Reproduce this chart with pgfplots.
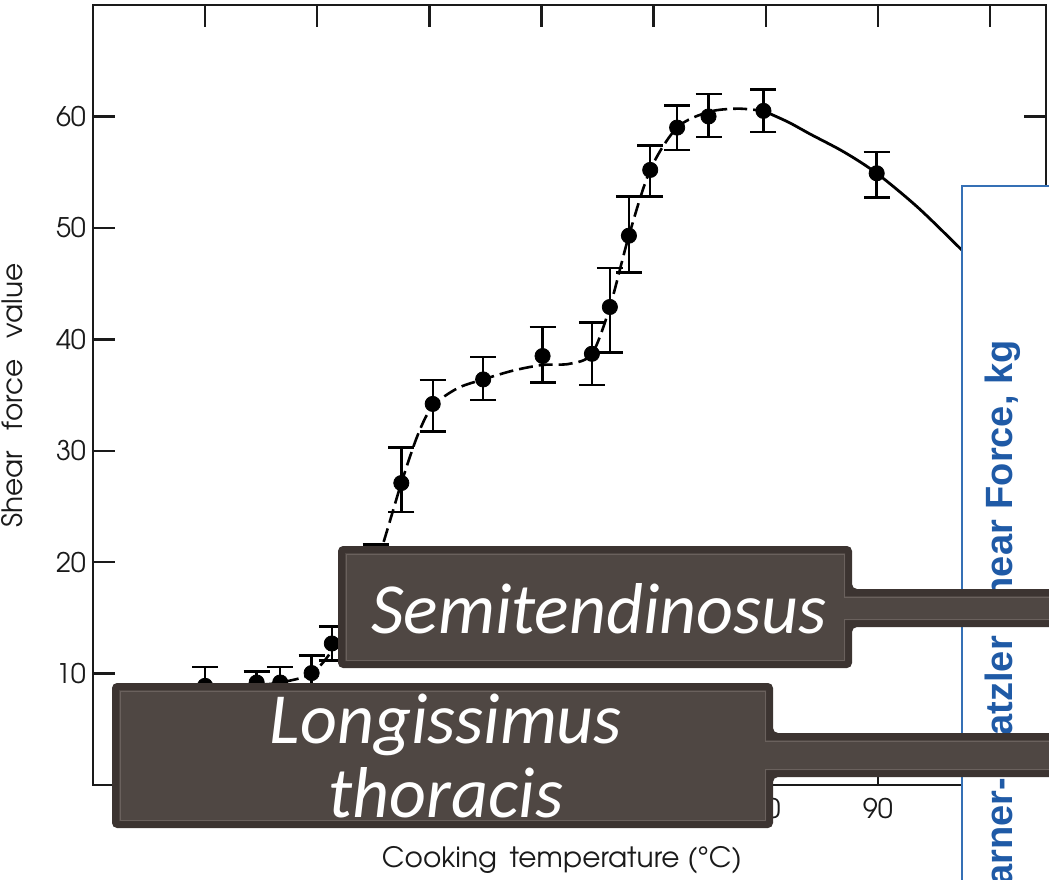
\documentclass[border=0pt]{standalone}
\usepackage{pgfplots}
\usepackage{pgfplotstable}
\pgfplotsset{compat=1.18}
\usepackage{fontspec}
\setmainfont{TeX Gyre Adventor}
\newfontfamily\boxfont{Carlito}
\newfontfamily\bluefont{Liberation Sans}
\definecolor{boxfill}{HTML}{4F4743}
\definecolor{boxdark}{HTML}{3C3431}
\definecolor{boxline}{HTML}{6A615D}
\definecolor{bluetxt}{HTML}{1F5AA6}
\definecolor{blueline}{HTML}{3570B5}
\definecolor{ink}{HTML}{1A1A1A}

% mean shear force with error bars (x, y, plus, minus)
\pgfplotstableread{
x y ep em
30.0 8.9 1.7 1.7
34.6 9.2 1.0 1.0
36.7 9.2 1.4 1.4
39.5 10.05 1.55 1.5
41.3 12.7 1.5 1.5
45.2 19.6 2.0 2.0
47.5 27.1 3.2 2.6
50.3 34.2 2.15 2.5
54.8 36.4 2.0 1.85
60.1 38.5 2.6 2.4
64.5 38.7 2.8 2.8
66.1 42.9 3.5 4.1
67.8 49.3 3.5 3.3
69.7 55.2 2.2 2.4
72.1 59.0 2.0 2.0
74.9 60.0 2.0 1.85
79.8 60.5 1.9 1.9
89.9 54.9 1.9 2.2
}\means

% fitted curve, dashed part
\pgfplotstableread{
x y
30.0 8.9
34.6 9.0
36.7 9.2
39.5 10.0
41.5 12.3
43.5 15.5
45.5 20.5
47.5 27.1
49.0 31.5
50.3 34.0
52.5 35.6
54.8 36.4
57.5 37.2
60.1 37.7
62.5 37.8
64.5 38.7
66.1 42.9
67.8 49.3
69.7 55.2
72.1 59.0
74.9 60.4
77.5 60.7
79.8 60.5
}\dashcurve

% fitted curve, solid part
\pgfplotstableread{
x y
79.8 60.5
82.0 59.5
84.0 58.4
87.0 56.8
89.9 54.9
93.5 51.9
97.0 48.5
100.0 45.5
}\solidcurve

\begin{document}
\begin{tikzpicture}
\useasboundingbox (0pt,0pt) rectangle (524.5pt,-439.5pt);
\clip (0pt,0pt) rectangle (524.5pt,-439.5pt);
\begin{axis}[
  at={(46.5pt,-392.5pt)}, anchor=south west,
  scale only axis, width=476.5pt, height=390pt,
  xmin=20, xmax=105, ymin=0, ymax=70,
  xtick={30,40,...,100}, ytick={10,20,...,60},
  xticklabels={,,,,,80,90,},
  tick align=inside, major tick length=11pt,
  axis line style={line width=1.3pt, ink},
  tick style={line width=1.2pt, ink},
  /pgf/number format/assume math mode=true,
  tick label style={font=\fontsize{13.5}{15}\selectfont, text=ink},
  xticklabel style={yshift=-3pt},
  label style={font=\fontsize{14}{16}\selectfont, text=ink},
  xlabel={Cooking\hspace{0.45em}temperature (°C)},
  ylabel={Shear\hspace{0.75em}force\hspace{0.75em}value},
  xlabel style={at={(axis description cs:0.492,-0.096)}, anchor=center},
  ylabel style={at={(axis description cs:-0.085,0.499)}, anchor=center},
  clip=false,
]
\addplot[black, line width=1.3pt, smooth, dash pattern=on 7pt off 3pt] table[x=x,y=y]{\dashcurve};
\addplot[black, line width=1.4pt, smooth] table[x=x,y=y]{\solidcurve};
\addplot[only marks, mark=*, mark size=3.8pt, black,
  error bars/.cd, y dir=both, y explicit,
  error bar style={line width=1.2pt, black},
  error mark options={rotate=90, mark size=6.5pt, line width=1.3pt, black}]
  table[x=x, y=y, y error plus=ep, y error minus=em]{\means};
\end{axis}

\begin{scope}[x=0.5pt, y=-0.5pt]
  % white panel with blue border
  \filldraw[fill=white, draw=blueline, line width=1pt] (962,186) rectangle (1080,900);
  \node[rotate=90, anchor=base east, inner sep=0pt, text=bluetxt,
        font=\bluefont\bfseries\fontsize{19}{22}\selectfont] at (1012,340)
        {Warner-Bratzler Shear Force, kg};

  % Semitendinosus label box
  \fill[boxdark, rounded corners=2.5pt] (338,546) -- (852,546) -- (852,589) -- (1080,589) -- (1080,627) -- (852,627) -- (852,668) -- (338,668) -- cycle;
  \fill[boxfill] (345,553) -- (845,553) -- (845,596) -- (1080,596) -- (1080,620) -- (845,620) -- (845,661) -- (345,661) -- cycle;
  \draw[boxline, line width=0.5pt] (346,554) -- (844,554) -- (844,597) -- (1080,597) -- (1080,619) -- (844,619) -- (844,660) -- (346,660) -- cycle;
  \node[anchor=base, inner sep=0pt, text=white, font=\boxfont\itshape\fontsize{36}{36}\selectfont] at (599,633) {Semitendinosus};

  % Longissimus thoracis label box
  \fill[boxdark, rounded corners=2.5pt] (112,683) -- (773,683) -- (773,733) -- (1080,733) -- (1080,777) -- (773,777) -- (773,828) -- (112,828) -- cycle;
  \fill[boxfill] (119,690) -- (766,690) -- (766,740) -- (1080,740) -- (1080,770) -- (766,770) -- (766,821) -- (119,821) -- cycle;
  \draw[boxline, line width=0.5pt] (120,691) -- (765,691) -- (765,741) -- (1080,741) -- (1080,769) -- (765,769) -- (765,820) -- (120,820) -- cycle;
  \node[anchor=base, inner sep=0pt, text=white, font=\boxfont\itshape\fontsize{36}{36}\selectfont] at (446,743) {Longissimus};
  \node[anchor=base, inner sep=0pt, text=white, font=\boxfont\itshape\fontsize{36}{36}\selectfont] at (446,817) {thoracis};
\end{scope}
\end{tikzpicture}
\end{document}
